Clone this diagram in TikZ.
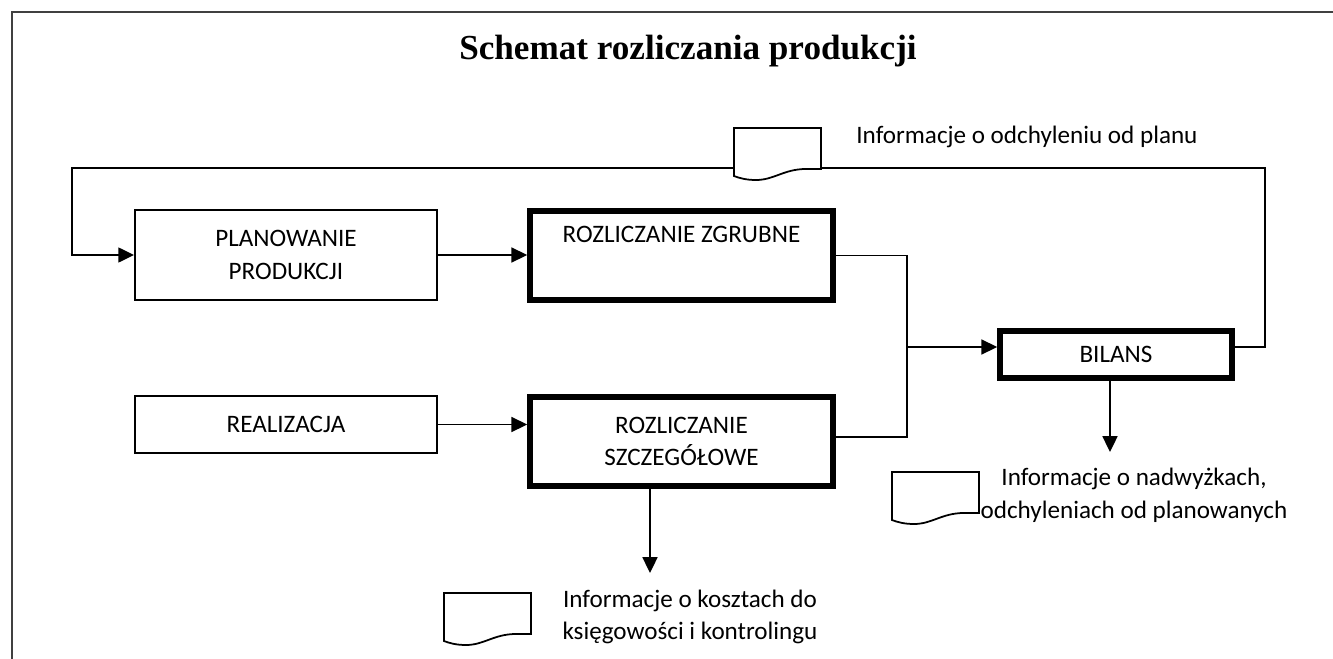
\documentclass[tikz,border=0pt]{standalone}
\usepackage{fontspec}
\setmainfont{Carlito}
\newfontfamily\titlefont{Liberation Serif}
\usetikzlibrary{arrows.meta}

\tikzset{
  box/.style={draw, line width=1.1pt, align=center, inner sep=0pt},
  boldbox/.style={draw, line width=3.2pt, align=center, inner sep=0pt},
  info/.style={align=center, inner sep=0pt},
  line/.style={line width=1.1pt},
  arr/.style={-{Triangle[length=9pt,width=8.5pt]}},
  frame/.style={line width=1.2pt, black!75},
}

% document symbol, top left corner given
\newcommand{\docsym}[1]{%
  \begin{scope}[shift={#1}]
    \filldraw[fill=white, line width=1pt] (0,0) -- (87,0) -- (87,41) -- (72,41)
      .. controls (50,41) and (40,52) .. (22,52)
      .. controls (12,52) and (5,50) .. (0,48) -- cycle;
  \end{scope}}

\begin{document}
\begin{tikzpicture}[x=0.02cm, y=-0.02cm, font=\fontsize{14.3}{18.7}\selectfont]
\useasboundingbox (0,0) rectangle (1333,659);

% frame and title
\draw[frame] (12,659) -- (12,12) -- (1333,12);
\node[font=\titlefont\bfseries\fontsize{20}{24}\selectfont] (title) at (688,51) {Schemat rozliczania produkcji};

% boxes
\node[box, minimum width=6.04cm, minimum height=1.8cm] (plan) at (286,255) {PLANOWANIE\\PRODUKCJI};
\node[boldbox, minimum width=6.06cm, minimum height=1.78cm] (zgrub) at (681.5,255.5) {ROZLICZANIE ZGRUBNE\\ \strut};
\node[box, minimum width=6.04cm, minimum height=1.14cm] (real) at (286,424.5) {REALIZACJA};
\node[boldbox, minimum width=6.06cm, minimum height=1.78cm] (szcz) at (681.5,441.5) {ROZLICZANIE\\SZCZEGÓŁOWE};
\node[boldbox, minimum width=4.64cm, minimum height=0.94cm] (bilans) at (1116,354.5) {BILANS};

% connectors
\coordinate (join) at (907,347);
\coordinate (fbR) at (1265,168);
\coordinate (fbL) at (72,168);
\coordinate (kout) at (650,573);
\coordinate (bout) at (1110,452);

\draw[line, arr] (plan.east) -- (plan.east -| zgrub.west);
\draw[line, arr] (real.east) -- (real.east -| szcz.west);
\draw[line] (zgrub.east) -| (join);
\draw[line] ([yshift=0.09cm]szcz.east) -| (join);
\draw[line, arr] (join) -- (join -| bilans.west);
\draw[line, arr] (join -| bilans.east) -| (fbR) -- (fbL) |- (plan.west);
\draw[line, arr] (szcz.south -| kout) -- (kout);
\draw[line, arr] (bilans.south -| bout) -- (bout);

% documents
\docsym{(734,128)}
\docsym{(892,472)}
\docsym{(444,593)}

% document texts
\node[info, anchor=west] (odch) at (856,137) {Informacje o odchyleniu od planu};
\node[info] (nadw) at (1134,495) {Informacje o nadwyżkach,\\odchyleniach od planowanych};
\node[info] (koszt) at (690,617) {Informacje o kosztach do\\księgowości i kontrolingu};

\end{tikzpicture}
\end{document}
